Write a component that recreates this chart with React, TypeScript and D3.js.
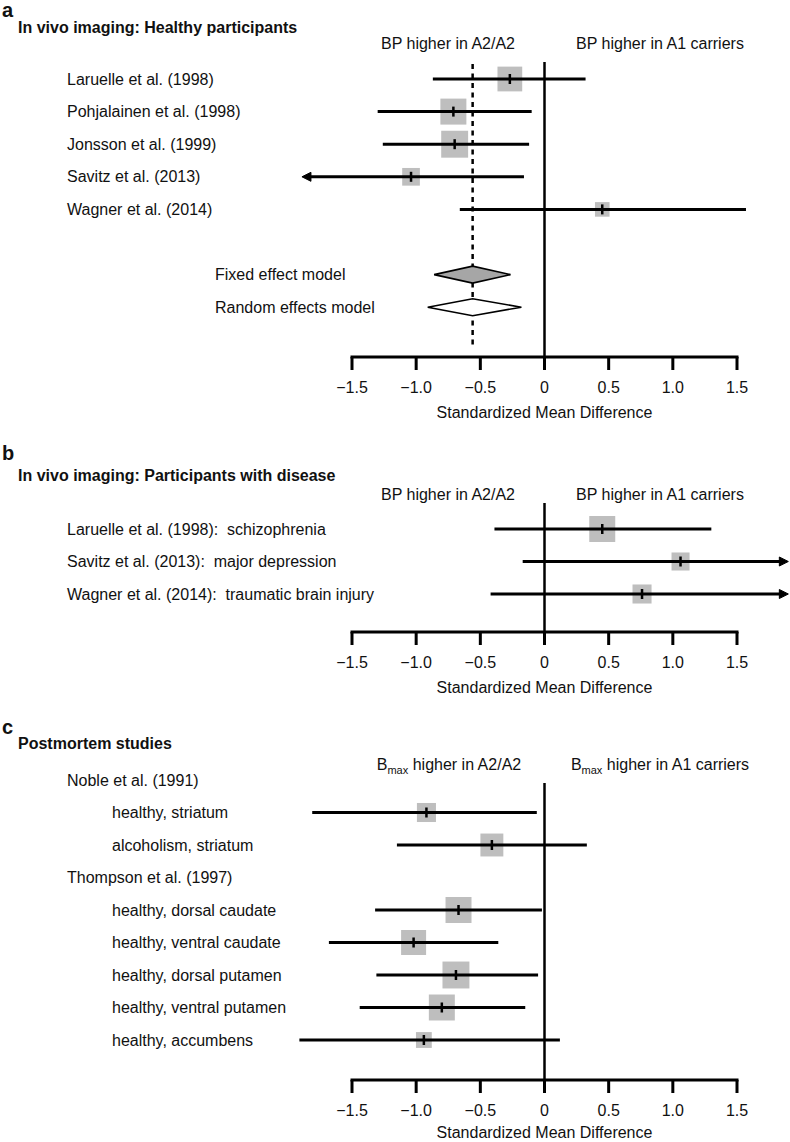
import React from 'react';
import * as d3 from 'd3';

// ---------- shared axis ----------
const tickValues = [-1.5, -1.0, -0.5, 0, 0.5, 1.0, 1.5];
const tickLabels = ['\u22121.5', '\u22121.0', '\u22120.5', '0', '0.5', '1.0', '1.5'];
const xTitle = 'Standardized Mean Difference';

// ---------- panel a ----------
const studiesA = [
  'Laruelle et al. (1998)',
  'Pohjalainen et al. (1998)',
  'Jonsson et al. (1999)',
  'Savitz et al. (2013)',
  'Wagner et al. (2014)',
];
const estA = [-0.27, -0.71, -0.70, -1.04, 0.45];
const loA = [-0.87, -1.30, -1.26, -1.89, -0.66];
const hiA = [0.32, -0.10, -0.12, -0.16, 1.57];
const weightA = [24.5, 27, 29, 12.5, 8.5];
const arrowLoA = [false, false, false, true, false];
const arrowHiA = [false, false, false, false, false];
const pooledLabels = ['Fixed effect model', 'Random effects model'];
const pooledEst = [-0.56, -0.56];
const pooledLo = [-0.86, -0.91];
const pooledHi = [-0.265, -0.18];

// ---------- panel b ----------
const studiesB = [
  'Laruelle et al. (1998):  schizophrenia',
  'Savitz et al. (2013):  major depression',
  'Wagner et al. (2014):  traumatic brain injury',
];
const estB = [0.45, 1.06, 0.76];
const loB = [-0.39, -0.17, -0.42];
const hiB = [1.30, 1.90, 1.90];
const weightB = [27, 13, 14.5];
const arrowLoB = [false, false, false];
const arrowHiB = [false, true, true];

// ---------- panel c ----------
const groupsC = ['Noble et al. (1991)', 'Thompson et al. (1997)'];
const groupRowC = [0, 3];
const studiesC = [
  'healthy, striatum',
  'alcoholism, striatum',
  'healthy, dorsal caudate',
  'healthy, ventral caudate',
  'healthy, dorsal putamen',
  'healthy, ventral putamen',
  'healthy, accumbens',
];
const rowC = [1, 2, 4, 5, 6, 7, 8];
const estC = [-0.92, -0.41, -0.67, -1.02, -0.69, -0.80, -0.94];
const loC = [-1.81, -1.15, -1.32, -1.68, -1.31, -1.44, -1.91];
const hiC = [-0.06, 0.33, -0.02, -0.36, -0.05, -0.15, 0.12];
const weightC = [14.5, 21, 27, 25, 29, 27, 10];

const FONT = 'Liberation Sans, Arial, Helvetica, sans-serif';
const BOX = '#bebebe';

const x = d3.scaleLinear().domain([-1.5, 1.5]).range([352, 737]);
const boxSide = d3.scaleSqrt().domain([0, 100]).range([0, 50]);

function Axis({ y, titleDy = 61 }: { y: number; titleDy?: number }) {
  return (
    <g>
      <line x1={x(-1.5)} x2={x(1.5)} y1={y} y2={y} stroke="#000" strokeWidth={3} strokeLinecap="square" />
      {tickValues.map((t, i) => (
        <g key={i}>
          <line x1={x(t)} x2={x(t)} y1={y} y2={y + 13} stroke="#000" strokeWidth={3} />
          <text x={x(t)} y={y + 36} textAnchor="middle" fontSize={16} fontFamily={FONT} fill="#111">
            {tickLabels[i]}
          </text>
        </g>
      ))}
      <text x={x(0)} y={y + titleDy} textAnchor="middle" fontSize={16} fontFamily={FONT} fill="#111">
        {xTitle}
      </text>
    </g>
  );
}

function Arrow({ xTip, y, dir }: { xTip: number; y: number; dir: number }) {
  const len = 9;
  const hw = 4.5;
  const p = d3.path();
  p.moveTo(xTip, y);
  p.lineTo(xTip - dir * len, y - hw);
  p.lineTo(xTip - dir * len, y + hw);
  p.closePath();
  return <path d={p.toString()} fill="#000" stroke="#000" strokeWidth={1} />;
}

function Study({ y, est, lo, hi, w, arrowLo, arrowHi }: any) {
  const s = boxSide(w);
  const xl = x(lo);
  const xh = x(hi);
  return (
    <g>
      <rect x={x(est) - s / 2} y={y - s / 2} width={s} height={s} fill={BOX} />
      <line x1={arrowLo ? xl + 6 : xl} x2={arrowHi ? xh - 6 : xh} y1={y} y2={y} stroke="#000" strokeWidth={3} />
      {arrowLo && <Arrow xTip={xl} y={y} dir={-1} />}
      {arrowHi && <Arrow xTip={xh} y={y} dir={1} />}
      <line x1={x(est)} x2={x(est)} y1={y - 5} y2={y + 5} stroke="#000" strokeWidth={2.5} />
    </g>
  );
}

function Diamond({ y, est, lo, hi, fill }: any) {
  const h = 8.5;
  const p = d3.path();
  p.moveTo(x(lo), y);
  p.lineTo(x(est), y - h);
  p.lineTo(x(hi), y);
  p.lineTo(x(est), y + h);
  p.closePath();
  return <path d={p.toString()} fill={fill} stroke="#000" strokeWidth={1.6} strokeLinejoin="miter" />;
}

function Label({ x0, y, children, bold, size }: any) {
  return (
    <text x={x0} y={y} fontSize={size || 16} fontWeight={bold ? 'bold' : 'normal'} fontFamily={FONT} fill="#111">
      {children}
    </text>
  );
}

export default function App() {
  const rowA = d3.scaleLinear().domain([0, 1]).range([79, 111.6]);
  const rowB = d3.scaleLinear().domain([0, 1]).range([529, 561.5]);
  const rowCy = d3.scaleLinear().domain([0, 1]).range([780, 812.5]);

  const axisA = 357;
  const axisB = 632;
  const axisC = 1080;

  return (
    <svg width={790} height={1142} style={{ position: 'absolute', left: 0, top: 0, background: '#fff' }}>
      <rect width={790} height={1142} fill="#fff" />

      {/* ---------------- panel a ---------------- */}
      <Label x0={2} y={17} bold size={20}>a</Label>
      <Label x0={18} y={33} bold>In vivo imaging: Healthy participants</Label>
      <text x={448} y={49} textAnchor="middle" fontSize={16} fontFamily={FONT} fill="#111">BP higher in A2/A2</text>
      <text x={660} y={49} textAnchor="middle" fontSize={16} fontFamily={FONT} fill="#111">BP higher in A1 carriers</text>
      <line x1={x(0)} x2={x(0)} y1={62} y2={axisA} stroke="#000" strokeWidth={2.5} />
      <line x1={x(pooledEst[0])} x2={x(pooledEst[0])} y1={64} y2={348} stroke="#000" strokeWidth={2.5} strokeDasharray="5,4.5" />
      {studiesA.map((s, i) => (
        <g key={s}>
          <Label x0={67} y={rowA(i) + 5.5}>{s}</Label>
          <Study y={rowA(i)} est={estA[i]} lo={loA[i]} hi={hiA[i]} w={weightA[i]} arrowLo={arrowLoA[i]} arrowHi={arrowHiA[i]} />
        </g>
      ))}
      {pooledLabels.map((s, i) => (
        <g key={s}>
          <Label x0={215} y={rowA(6 + i) + 5.5}>{s}</Label>
          <Diamond y={rowA(6 + i)} est={pooledEst[i]} lo={pooledLo[i]} hi={pooledHi[i]} fill={i === 0 ? '#a6a6a6' : '#fff'} />
        </g>
      ))}
      <Axis y={axisA} />

      {/* ---------------- panel b ---------------- */}
      <Label x0={2} y={460} bold size={20}>b</Label>
      <Label x0={18} y={481} bold>In vivo imaging: Participants with disease</Label>
      <text x={448} y={500} textAnchor="middle" fontSize={16} fontFamily={FONT} fill="#111">BP higher in A2/A2</text>
      <text x={660} y={500} textAnchor="middle" fontSize={16} fontFamily={FONT} fill="#111">BP higher in A1 carriers</text>
      <line x1={x(0)} x2={x(0)} y1={503} y2={axisB} stroke="#000" strokeWidth={2.5} />
      {studiesB.map((s, i) => (
        <g key={s}>
          <Label x0={67} y={rowB(i) + 5.5}><tspan style={{ whiteSpace: 'pre' }}>{s}</tspan></Label>
          <Study y={rowB(i)} est={estB[i]} lo={loB[i]} hi={hiB[i]} w={weightB[i]} arrowLo={arrowLoB[i]} arrowHi={arrowHiB[i]} />
        </g>
      ))}
      <Axis y={axisB} />

      {/* ---------------- panel c ---------------- */}
      <Label x0={2} y={734} bold size={20}>c</Label>
      <Label x0={18} y={749} bold>Postmortem studies</Label>
      <text x={449} y={770} textAnchor="middle" fontSize={16} fontFamily={FONT} fill="#111">
        B<tspan fontSize={11} dy={4}>max</tspan><tspan dy={-4}> higher in A2/A2</tspan>
      </text>
      <text x={660} y={770} textAnchor="middle" fontSize={16} fontFamily={FONT} fill="#111">
        B<tspan fontSize={11} dy={4}>max</tspan><tspan dy={-4}> higher in A1 carriers</tspan>
      </text>
      <line x1={x(0)} x2={x(0)} y1={783} y2={axisC} stroke="#000" strokeWidth={2.5} />
      {groupsC.map((g, i) => (
        <Label key={g} x0={67} y={rowCy(groupRowC[i]) + 5.5}>{g}</Label>
      ))}
      {studiesC.map((s, i) => (
        <g key={s}>
          <Label x0={112} y={rowCy(rowC[i]) + 5.5}>{s}</Label>
          <Study y={rowCy(rowC[i])} est={estC[i]} lo={loC[i]} hi={hiC[i]} w={weightC[i]} arrowLo={false} arrowHi={false} />
        </g>
      ))}
      <Axis y={axisC} titleDy={58} />
    </svg>
  );
}
